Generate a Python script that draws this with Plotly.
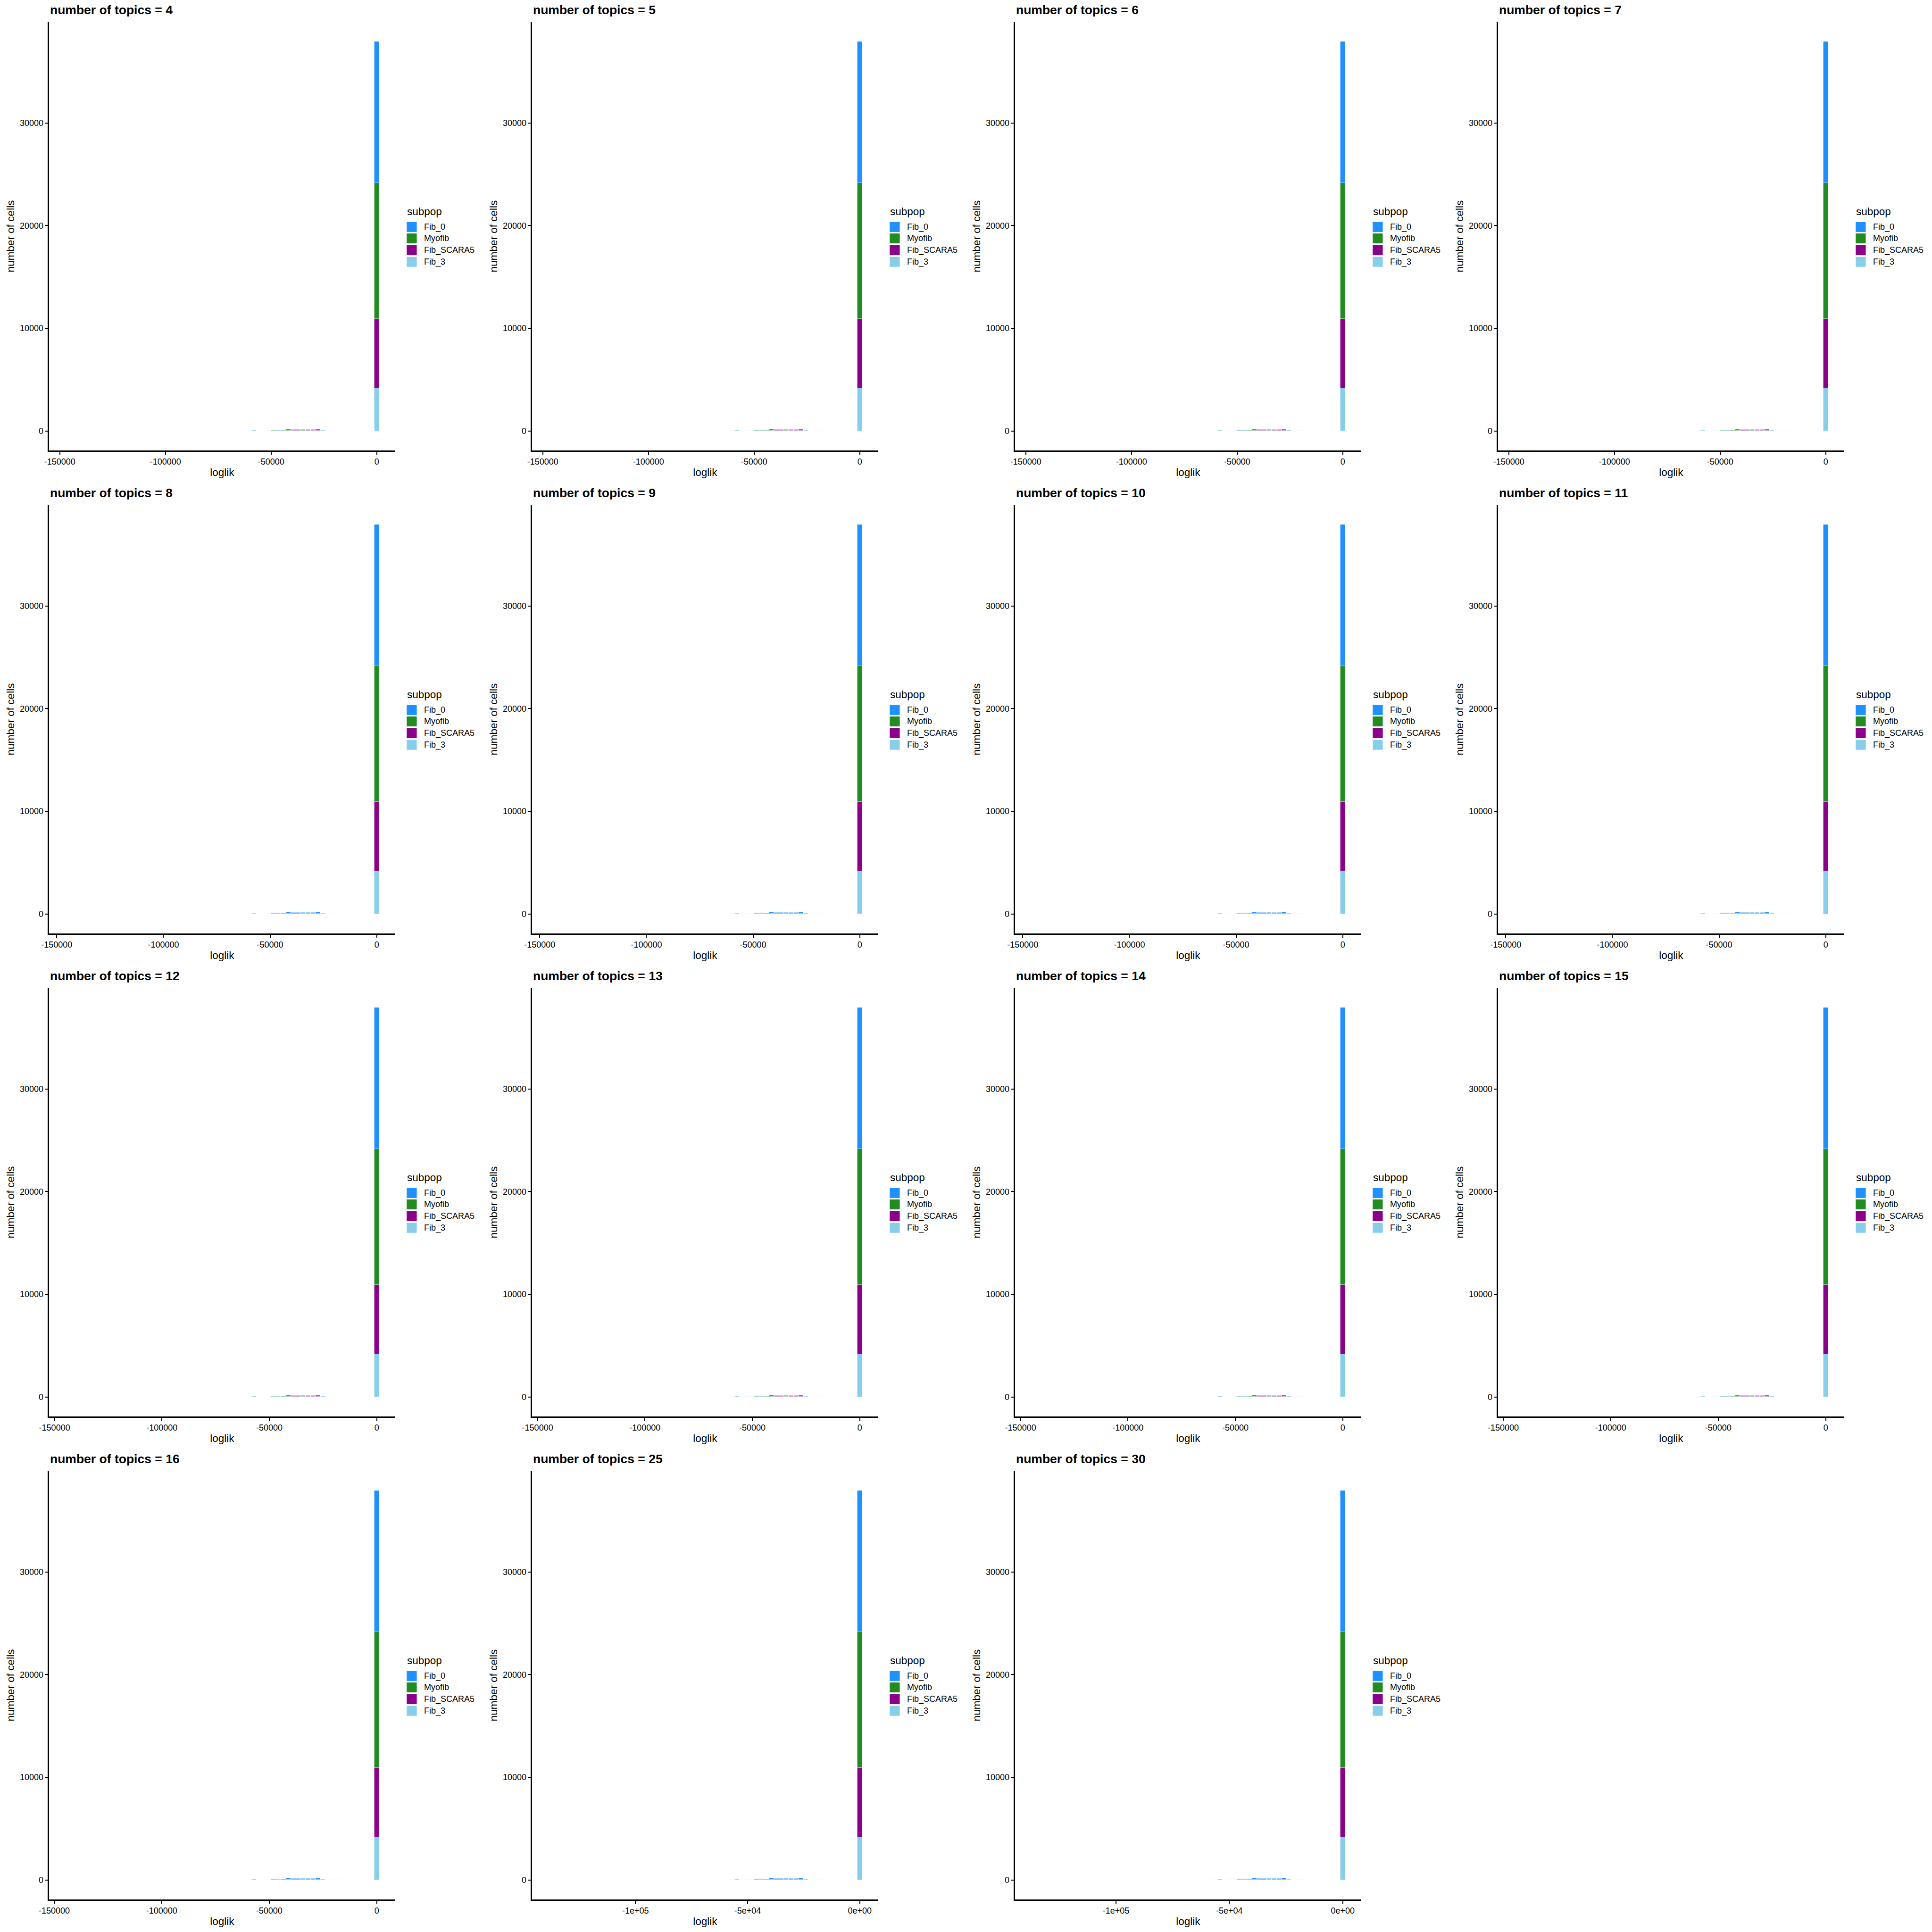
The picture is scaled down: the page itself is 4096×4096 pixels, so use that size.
import plotly.graph_objects as go

# ---------------- data ----------------
TOPICS = [4, 5, 6, 7, 8, 9, 10, 11, 12, 13, 14, 15, 16, 25, 30]
LOGLIK_MIN = [-146400, -146400, -146400, -146400,
              -145000, -145000, -145000, -145000,
              -144000, -144000, -144000, -143850,
              -143850, -137900, -136400]
LOGLIK_MAX = 0
SCI_LABELS = [False] * 13 + [True, True]
N_BINS = 64

SUBPOPS = ["Fib_0", "Myofib", "Fib_SCARA5", "Fib_3"]
COLORS = ["#1E90FF", "#228B22", "#8B008B", "#87CEEB"]

# histogram bins counted from the highest-loglik bin (0 = bin at max loglik)
BIN_FROM_TOP = [0, 8, 9, 11, 12, 13, 14, 15, 16, 17, 18, 19, 20, 21, 22, 23, 25, 26]
COUNT_FIB_0 = [13770, 10, 0, 35, 55, 70, 70, 70, 100, 80, 60, 0, 60, 50, 0, 0, 40, 0]
COUNT_MYOFIB = [13230, 0, 0, 15, 35, 40, 40, 50, 60, 55, 60, 35, 15, 40, 30, 30, 0, 0]
COUNT_FIB_SCARA5 = [6780, 0, 0, 10, 20, 35, 25, 15, 15, 10, 0, 0, 0, 0, 0, 0, 0, 0]
COUNT_FIB_3 = [4140, 20, 30, 20, 30, 30, 30, 30, 40, 40, 30, 15, 30, 15, 15, 10, 20, 30]
COUNTS = {"Fib_0": COUNT_FIB_0, "Myofib": COUNT_MYOFIB,
          "Fib_SCARA5": COUNT_FIB_SCARA5, "Fib_3": COUNT_FIB_3}

TICK_VALUES = [-150000, -100000, -50000, 0]
TICK_LABELS_PLAIN = ["-150000", "-100000", "-50000", "0"]
TICK_LABELS_SCI = ["-1.5e+05", "-1e+05", "-5e+04", "0e+00"]
Y_TICKS = [0, 10000, 20000, 30000]

# ---------------- layout constants (reference px in a 1200 px cell) -------------
REF = 4800.0
CELL = 1200.0
PL, PR, PT, PB = 122.4, 981.1, 55.1, 1118.9
FONT = "Liberation Sans, Arial, Helvetica, sans-serif"

def px_x(c, x):
    return (c * CELL + x) / REF

def px_y(r, y):
    return 1 - (r * CELL + y) / REF

fig = go.Figure()
layout = dict(
    template="none",
    width=4096, height=4096, margin=dict(l=0, r=0, t=0, b=0, pad=0),
    paper_bgcolor="white", plot_bgcolor="white",
    barmode="stack", bargap=0, showlegend=False,
    font=dict(family=FONT, color="black"),
)
annotations = []
shapes = []

stack_totals = [sum(COUNTS[s][i] for s in SUBPOPS) for i in range(len(BIN_FROM_TOP))]
y_top = max(stack_totals)
y_range = [-0.05 * y_top, 1.05 * y_top]

for p, topic in enumerate(TOPICS):
    r, c = divmod(p, 4)
    ax = "" if p == 0 else str(p + 1)
    w = (LOGLIK_MAX - LOGLIK_MIN[p]) / (N_BINS - 1)
    span = N_BINS * w
    x_lo = LOGLIK_MIN[p] - w / 2 - 0.05 * span
    x_hi = LOGLIK_MAX + w / 2 + 0.05 * span
    centers = [LOGLIK_MAX - k * w for k in BIN_FROM_TOP]

    for s in reversed(SUBPOPS):  # bottom of the stack first
        col = COLORS[SUBPOPS.index(s)]
        fig.add_trace(go.Bar(
            x=centers, y=COUNTS[s], width=w, name=s,
            marker=dict(color=col, line=dict(color="white", width=0.6)),
            xaxis="x" + ax, yaxis="y" + ax, showlegend=False,
        ))

    labels = TICK_LABELS_SCI if SCI_LABELS[p] else TICK_LABELS_PLAIN
    tv = [v for v in TICK_VALUES if x_lo <= v <= x_hi]
    tt = [labels[TICK_VALUES.index(v)] for v in tv]

    layout["xaxis" + ax] = dict(
        domain=[px_x(c, PL), px_x(c, PR)], anchor="y" + ax, automargin=False,
        range=[x_lo, x_hi], tickvals=tv, ticktext=tt,
        showline=True, linecolor="black", linewidth=2.6,
        ticks="outside", ticklen=6, tickwidth=1.8, tickcolor="black",
        showgrid=False, zeroline=False,
        tickfont=dict(size=18, color="black", family=FONT),
        title=dict(text="loglik", font=dict(size=22.5, color="black", family=FONT), standoff=6),
    )
    layout["yaxis" + ax] = dict(
        domain=[px_y(r, PB), px_y(r, PT)], anchor="x" + ax, automargin=False,
        range=y_range, tickvals=Y_TICKS, ticktext=[str(v) for v in Y_TICKS],
        showline=True, linecolor="black", linewidth=2.6,
        ticks="outside", ticklen=6, tickwidth=1.8, tickcolor="black",
        showgrid=False, zeroline=False,
        tickfont=dict(size=18, color="black", family=FONT),
        title=dict(text="number of cells", font=dict(size=22.5, color="black", family=FONT), standoff=6),
    )

    # panel title
    annotations.append(dict(
        text="number of topics = %d" % topic, xref="paper", yref="paper",
        x=px_x(c, PL), y=px_y(r, 24.3), xanchor="left", yanchor="middle",
        showarrow=False, font=dict(size=26.5, color="black", family=FONT, weight="bold"),
    ))
    # legend title
    annotations.append(dict(
        text="subpop", xref="paper", yref="paper",
        x=px_x(c, 1008.6), y=px_y(r, 525), xanchor="left", yanchor="middle",
        showarrow=False, font=dict(size=22.5, color="black", family=FONT),
    ))
    key_tops = [551.0, 579.3, 608.4, 637.5]
    for i, s in enumerate(SUBPOPS):
        t = key_tops[i]
        shapes.append(dict(
            type="rect", xref="paper", yref="paper",
            x0=px_x(c, 1010), x1=px_x(c, 1036), y0=px_y(r, t + 26), y1=px_y(r, t),
            fillcolor=COLORS[i], line=dict(color="white", width=1),
        ))
        annotations.append(dict(
            text=s, xref="paper", yref="paper",
            x=px_x(c, 1051.5), y=px_y(r, t + 13), xanchor="left", yanchor="middle",
            showarrow=False, font=dict(size=18, color="black", family=FONT),
        ))

layout["annotations"] = annotations
layout["shapes"] = shapes
fig.update_layout(**layout)
fig.write_html("out.html")
